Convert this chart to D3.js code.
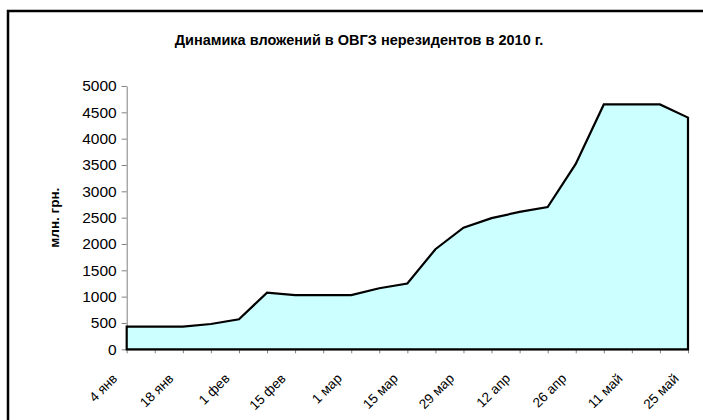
<!DOCTYPE html>
<html>
<head>
<meta charset="utf-8">
<script src="https://cdn.jsdelivr.net/npm/d3@7"></script>
<style>
  body { margin: 0; background: #fff; }
  svg { display: block; font-family: Arial, "Liberation Sans", sans-serif; }
</style>
</head>
<body>
<div id="chart"></div>
<script>
// weekly dates (only every other one gets a label)
const dates = ["4 янв", "11 янв", "18 янв", "25 янв", "1 фев", "8 фев", "15 фев", "22 фев",
    "1 мар", "8 мар", "15 мар", "22 мар", "29 мар", "5 апр", "12 апр", "19 апр",
    "26 апр", "4 май", "11 май", "18 май", "25 май"];

// non-resident holdings of government bonds, mln UAH
const volumes = [430, 430, 430, 480, 570, 1075, 1030, 1030, 1030, 1160, 1250,
    1900, 2310, 2490, 2610, 2700, 3520, 4650, 4650, 4650, 4400];

const yTicks = [0, 500, 1000, 1500, 2000, 2500, 3000, 3500, 4000, 4500, 5000];

const title = "Динамика вложений в ОВГЗ нерезидентов в 2010 г.";
const yTitle = "млн. грн.";

const width = 703;
const height = 420;

const svg = d3.select('#chart')
    .append('svg')
    .attr('width', width)
    .attr('height', height);

// outer chart frame
svg.append('rect')
    .attr('x', 8)
    .attr('y', 11)
    .attr('width', 720)
    .attr('height', 440)
    .attr('fill', 'none')
    .attr('stroke', '#000')
    .attr('stroke-width', 2.5);

const x = d3.scalePoint()
    .domain(dates)
    .range([126.7, 688]);

const y = d3.scaleLinear()
    .domain([0, 5000])
    .range([349.3, 86]);

// y axis
const yAxis = svg.append('g')
    .attr('transform', `translate(${x.range()[0]},0)`)
    .call(d3.axisLeft(y).tickValues(yTicks).tickFormat(d3.format('d'))
        .tickSize(5).tickPadding(5).tickSizeOuter(0));

yAxis.select('.domain').attr('stroke', '#808080');
yAxis.selectAll('.tick line').attr('stroke', '#808080');
yAxis.selectAll('.tick text')
    .attr('fill', '#000')
    .style('font-size', '15.5px');

// x axis
const xAxis = svg.append('g')
    .attr('transform', `translate(0,${y(0)})`)
    .call(d3.axisBottom(x).tickSize(4).tickSizeOuter(0)
        .tickFormat((d, i) => i % 2 === 0 ? d : ''));

xAxis.select('.domain').attr('stroke', '#808080');
xAxis.selectAll('.tick line').attr('stroke', '#808080');
xAxis.selectAll('.tick text')
    .attr('fill', '#000')
    .style('font-size', '13.5px')
    .attr('text-anchor', 'end')
    .attr('dy', null)
    .attr('y', null)
    .attr('transform', 'translate(-9,30) rotate(-45)');

// area
const area = d3.area()
    .x((d, i) => x(dates[i]))
    .y0(y(0))
    .y1(d => y(d));

svg.append('path')
    .datum(volumes)
    .attr('d', d => area(d))
    .attr('fill', '#ccffff')
    .attr('stroke', '#000')
    .attr('stroke-width', 2.2)
    .attr('stroke-linejoin', 'miter');

// titles
svg.append('text')
    .attr('x', 359)
    .attr('y', 45)
    .attr('text-anchor', 'middle')
    .style('font-size', '14.5px')
    .style('font-weight', 'bold')
    .text(title);

svg.append('text')
    .attr('transform', `translate(59,${(y(0) + y(5000)) / 2}) rotate(-90)`)
    .attr('text-anchor', 'middle')
    .style('font-size', '13.5px')
    .style('font-weight', 'bold')
    .text(yTitle);
</script>
</body>
</html>
